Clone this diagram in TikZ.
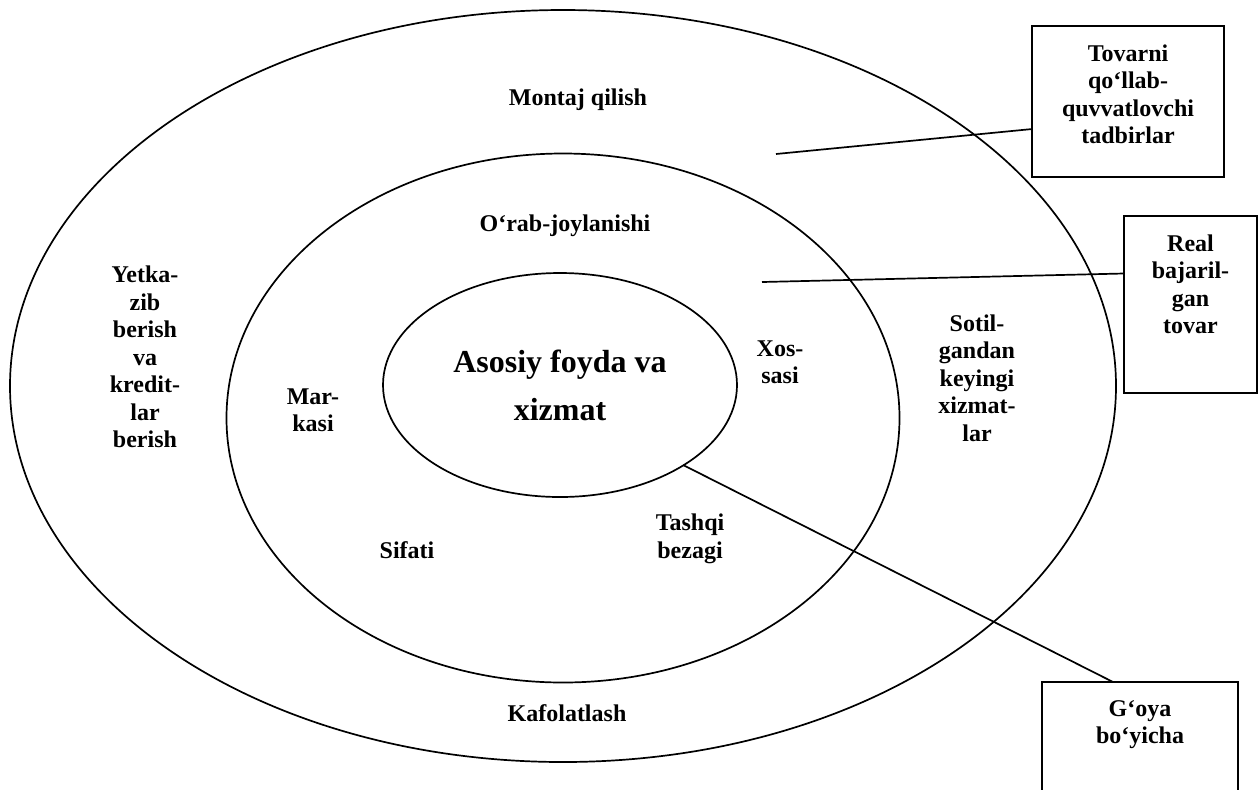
\documentclass[tikz,border=0pt]{standalone}
\usepackage{fontspec}
\setmainfont{Liberation Serif}
\usetikzlibrary{shapes.geometric,positioning}

\begin{document}
\begin{tikzpicture}[x=0.5pt,y=-0.5pt,line width=0.85pt,
        ring/.style={draw,ellipse,inner sep=0pt,outer sep=0pt},
        lbl/.style={font=\fontsize{12}{13.75}\selectfont\bfseries,align=center},
        infobox/.style={draw,rectangle,inner sep=0pt,outer sep=0pt},
        boxtext/.style={lbl,anchor=north}]
        \clip (0,0) rectangle (1258,789);
        % three rings
        \node[ring,minimum width=553pt,minimum height=376pt] (outer) at (563,386) {};
        \node[ring,minimum width=336.5pt,minimum height=264.5pt] (middle) at (563,418) {};
        \node[ring,minimum width=177pt,minimum height=112pt,
            font=\fontsize{16}{24}\selectfont\bfseries,align=center] (core) at (560,385)
            {Asosiy foyda va\\xizmat};
        % ring labels
        \node[lbl] (montaj) at (578,100) {Montaj qilish};
        \node[lbl] (orab) at (565,226) {O‘rab-joylanishi};
        \node[lbl] (yetka) at (145,357) {Yetka-\\zib\\berish\\va\\kredit-\\lar\\berish};
        \node[lbl] (marka) at (313,410) {Mar-\\kasi};
        \node[lbl] (xossa) at (780,362) {Xos-\\sasi};
        \node[lbl] (sotil) at (977,378) {Sotil-\\gandan\\keyingi\\xizmat-\\lar};
        \node[lbl] (sifat) at (407,550) {Sifati};
        \node[lbl] (tashqi) at (690,539) {Tashqi\\bezagi};
        \node[lbl] (kafolat) at (567,713) {Kafolatlash};
        % boxes on the right
        \node[infobox,minimum width=96pt,minimum height=75.5pt] (tbox) at (1128,101.5) {};
        \node[boxtext] (ttxt) [below=5.5pt of tbox.north] {Tovarni\\qo‘llab-\\quvvatlovchi\\tadbirlar};
        \node[infobox,minimum width=66.5pt,minimum height=88.5pt] (rbox) at (1190.5,304.5) {};
        \node[boxtext] (rtxt) [below=5.5pt of rbox.north] {Real\\bajaril-\\gan\\tovar};
        \node[infobox,minimum width=98pt,minimum height=74pt] (gbox) at (1140,756) {};
        \node[boxtext] (gtxt) [below=5.5pt of gbox.north] {G‘oya\\bo‘yicha};
        % leader lines
        \coordinate (tip1) at (776,154);
        \coordinate (tip2) at (762,282);
        \draw (tip1) -- (tbox.196);
        \draw (tip2) -- (rbox.155);
        \draw (core.-33) -- (gbox.110);
\end{tikzpicture}
\end{document}
